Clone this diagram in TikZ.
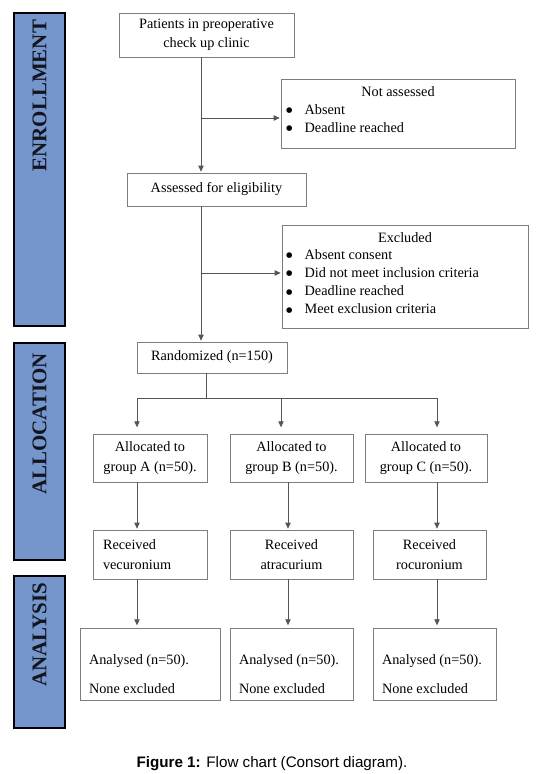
\documentclass[tikz,border=0pt]{standalone}
\usepackage{fontspec}
\setmainfont{Liberation Serif}
\newfontfamily\capfont{Liberation Sans}
\newfontfamily\symfont{DejaVu Sans}
\usetikzlibrary{arrows.meta,calc}
\definecolor{sidebar}{RGB}{116,150,204}
\definecolor{boxline}{RGB}{125,125,125}
\definecolor{connline}{RGB}{85,85,85}
\definecolor{sidetext}{RGB}{18,20,30}
\newcommand{\bigbul}{\raisebox{1.1pt}{\symfont\fontsize{5.5}{5.5}\selectfont ●}}
\begin{document}
\begin{tikzpicture}[x=0.75pt,y=-0.75pt,
  every node/.style={inner sep=0pt, outer sep=0pt},
  txt/.style={font=\fontsize{10.7}{14}\selectfont},
  wh/.style 2 args={minimum width=#1*0.75pt, minimum height=#2*0.75pt},
  box/.style={draw=boxline, line width=0.7pt, fill=white, align=center, txt},
  side/.style={draw=black, line width=1.1pt, fill=sidebar},
  sidelabel/.style={rotate=90, anchor=east, text=sidetext, font=\fontsize{15.7}{18}\selectfont\bfseries},
  conn/.style={draw=connline, line width=0.6pt},
  arr/.style={conn, -{Triangle[width=4pt,length=4.5pt]}, shorten >=1pt},
]
\useasboundingbox (0,0) rectangle (541,774);

% sidebars
\node[side, wh={51}{313}] (enr) at (39.5,169.5) {};
\node[sidelabel] (enrl) at ($(enr.north)+(0,7)$) {ENROLLMENT};
\node[side, wh={51}{217}] (alc) at (39.5,451.5) {};
\node[sidelabel] (alcl) at ($(alc.north)+(0,10)$) {ALLOCATION};
\node[side, wh={51}{152}] (ana) at (39.5,652) {};
\node[sidelabel] (anal) at ($(ana.north)+(0,7)$) {ANALYSIS};

% enrollment boxes
\node[box, wh={175}{44}] (pat) at (206.5,35) {Patients in preoperative\\check up clinic};
\node[box, wh={234}{69}] (nota) at (398,113.5) {};
\node[txt, anchor=base] (notat) at ($(nota.north)+(0,18)$) {Not assessed};
\node[txt, anchor=base west] (notal) at ($(nota.north west)+(5,35)$)
  {\def\arraystretch{0.98}\begin{tabular}[t]{@{}p{14pt}@{}l@{}}\bigbul & Absent\\ \bigbul & Deadline reached\end{tabular}};

\node[box, wh={179}{33}] (elig) at (216.5,189.5) {Assessed for eligibility};
\node[box, wh={246}{103}] (excl) at (405,276.5) {};
\node[txt, anchor=base] (exclt) at ($(excl.north)+(0,17)$) {Excluded};
\node[txt, anchor=base west] (excll) at ($(excl.north west)+(4,34)$)
  {\def\arraystretch{0.98}\begin{tabular}[t]{@{}p{14pt}@{}l@{}}\bigbul & Absent consent\\ \bigbul & Did not meet inclusion criteria\\ \bigbul & Deadline reached\\ \bigbul & Meet exclusion criteria\end{tabular}};

% allocation
\node[box, wh={150}{31}] (rand) at (212,357.5) {Randomized (n=150)};
\node[box, wh={114}{48}] (allA) at (150,458) {Allocated to\\[1.5pt]group A (n=50).};
\node[box, wh={123}{48}] (allB) at (291.5,458) {Allocated to\\[1.5pt]group B (n=50).};
\node[box, wh={122}{48}] (allC) at (426,458) {Allocated to\\[1.5pt]group C (n=50).};

\node[box, wh={114}{49}, align=left, text width=94*0.75pt] (recA) at (150,554.5) {Received\\[0.5pt]vecuronium};
\node[box, wh={123}{49}] (recB) at (291.5,554.5) {Received\\[0.5pt]atracurium};
\node[box, wh={113}{49}] (recC) at (429.5,554.5) {Received\\[0.5pt]rocuronium};

% analysis
\node[box, wh={140}{72}] (anaA) at (150,664) {};
\node[box, wh={123}{72}] (anaB) at (291.5,664) {};
\node[box, wh={123}{72}] (anaC) at (434.5,664) {};
\foreach \b in {anaA,anaB,anaC}{
  \node[txt, anchor=base west] (\b t1) at ($(\b.north west)+(9,36)$) {Analysed (n=50).};
  \node[txt, anchor=base west] (\b t2) at ($(\b.north west)+(9,65)$) {None excluded};
}

% caption
\node[anchor=base, font=\capfont\fontsize{11.4}{13}\selectfont] (cap) at (272,767)
  {\textbf{Figure 1:} Flow chart (Consort diagram).};

% connector coordinates
\coordinate (xP) at (201,0);
\coordinate (xR) at (206,0);
\coordinate (xA) at (137,0);
\coordinate (xB1) at (281,0);
\coordinate (xB2) at (288,0);
\coordinate (xC) at (437,0);
\coordinate (j1) at (201,118);
\coordinate (j2) at (201,273);
\coordinate (split) at (206,398);

% connectors
\draw[arr] (pat.south -| xP) -- (elig.north -| xP);
\draw[arr] (j1) -- (j1 -| nota.west);
\draw[arr] (elig.south -| xP) -- (rand.north -| xP);
\draw[arr] (j2) -- (j2 -| excl.west);
\draw[conn] (rand.south -| xR) -- (split);
\draw[conn] (split -| xA) -- (split -| xC);
\draw[arr, shorten >=5pt] (split -| xA) -- (allA.north -| xA);
\draw[arr, shorten >=5pt] (split -| xB1) -- (allB.north -| xB1);
\draw[arr, shorten >=5pt] (split -| xC) -- (allC.north -| xC);
\draw[arr] (allA.south -| xA) -- (recA.north -| xA);
\draw[arr] (allB.south -| xB2) -- (recB.north -| xB2);
\draw[arr] (allC.south -| xC) -- (recC.north -| xC);
\draw[arr, shorten >=2pt] (recA.south -| xA) -- (anaA.north -| xA);
\draw[arr, shorten >=2pt] (recB.south -| xB2) -- (anaB.north -| xB2);
\draw[arr, shorten >=2pt] (recC.south -| xC) -- (anaC.north -| xC);
\end{tikzpicture}
\end{document}
